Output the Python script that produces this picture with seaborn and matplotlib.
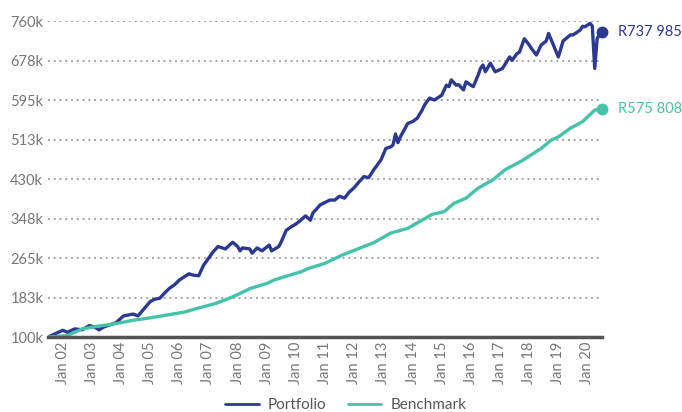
import pandas as pd
import matplotlib.pyplot as plt
import matplotlib.dates as mdates
import seaborn as sns

# Portfolio readings (value in R thousands)
port_months = [
    "2001-07", "2002-01", "2002-03", "2002-06", "2002-09", "2002-12", "2003-02", "2003-04",
    "2003-06", "2003-11", "2004-02", "2004-06", "2004-08", "2004-10", "2005-01", "2005-03",
    "2005-05", "2005-07", "2005-09", "2005-11", "2006-01", "2006-05", "2006-07", "2006-09",
    "2006-11", "2007-03", "2007-05", "2007-08", "2007-11", "2008-01", "2008-02", "2008-03",
    "2008-06", "2008-07", "2008-09", "2008-11", "2009-02", "2009-03", "2009-06", "2009-07",
    "2009-09", "2009-11", "2010-01", "2010-02", "2010-05", "2010-07", "2010-08", "2010-11",
    "2011-03", "2011-05", "2011-07", "2011-09", "2011-11", "2012-01", "2012-03", "2012-05",
    "2012-07", "2012-09", "2012-12", "2013-02", "2013-04", "2013-05", "2013-06", "2013-07",
    "2013-08", "2013-11", "2014-01", "2014-03", "2014-05", "2014-06", "2014-08", "2014-10",
    "2015-01", "2015-03", "2015-04", "2015-05", "2015-07", "2015-08", "2015-10", "2015-11",
    "2016-01", "2016-02", "2016-04", "2016-05", "2016-06", "2016-07", "2016-09", "2016-11",
    "2017-02", "2017-05", "2017-06", "2017-08", "2017-09", "2017-11", "2018-01", "2018-02",
    "2018-04", "2018-06", "2018-08", "2018-09", "2019-01", "2019-03", "2019-06", "2019-07",
    "2019-08", "2019-10", "2019-11", "2019-12", "2020-02", "2020-03", "2020-04", "2020-05",
    "2020-06", "2020-07",
]
port_values = [
    100, 114, 110, 117, 115, 124, 121, 115,
    121, 130, 144, 148, 144, 156, 174, 179,
    181, 192, 202, 209, 219, 232, 229, 228,
    250, 278, 289, 284, 298, 289, 280, 286,
    284, 275, 286, 280, 292, 280, 289, 299,
    323, 330, 336, 340, 353, 344, 359, 376,
    386, 386, 394, 390, 403, 412, 424, 435,
    433, 449, 470, 494, 497, 501, 524, 506,
    518, 546, 550, 557, 574, 585, 599, 595,
    605, 626, 623, 637, 626, 627, 616, 633,
    626, 623, 647, 661, 668, 654, 672, 654,
    661, 685, 678, 692, 695, 723, 710, 702,
    689, 710, 718, 734, 685, 718, 731, 731,
    734, 741, 749, 748, 755, 750, 661, 723,
    733, 737.985,
]

# Benchmark readings (value in R thousands)
bench_months = [
    "2001-07", "2002-03", "2002-09", "2003-04", "2003-11", "2004-06", "2005-01", "2005-08",
    "2006-03", "2006-10", "2007-04", "2007-11", "2008-02", "2008-06", "2009-01", "2009-04",
    "2009-09", "2010-03", "2010-06", "2011-01", "2011-08", "2012-03", "2012-09", "2013-04",
    "2013-11", "2014-05", "2014-09", "2015-02", "2015-06", "2015-11", "2016-04", "2016-10",
    "2017-03", "2017-10", "2018-06", "2018-10", "2019-01", "2019-06", "2019-11", "2020-04",
    "2020-07",
]
bench_values = [
    100, 103, 117, 123, 128, 135, 140, 146,
    152, 162, 170, 184, 191, 201, 212, 219,
    227, 236, 243, 254, 271, 285, 297, 317,
    327, 344, 356, 362, 379, 390, 411, 428,
    449, 468, 494, 511, 518, 536, 550, 574,
    575.808,
]

series_names = ["Portfolio", "Benchmark"]
end_labels = ["R737 985", "R575 808"]
colors = {"Portfolio": "#2b3990", "Benchmark": "#45c3aa"}

ytick_vals = [100, 182.5, 265, 347.5, 430, 512.5, 595, 677.5, 760]
ytick_labels = ["100k", "183k", "265k", "348k", "430k", "513k", "595k", "678k", "760k"]

sns.set_theme(style="white")
plt.rcParams['font.family'] = ['Lato', 'DejaVu Sans']

df = pd.concat([
    pd.DataFrame({"Date": pd.to_datetime(port_months), "Value": port_values, "Series": "Portfolio"}),
    pd.DataFrame({"Date": pd.to_datetime(bench_months), "Value": bench_values, "Series": "Benchmark"}),
], ignore_index=True)

fig = plt.figure(figsize=(6.82, 4.12), dpi=100)
ax = fig.add_axes([0.0704, 0.182, 0.8123, 0.767])

sns.lineplot(data=df, x="Date", y="Value", hue="Series", hue_order=series_names,
             palette=colors, linewidth=2.4, ax=ax)

# end dots + value labels
for name, lab in zip(series_names, end_labels):
    last = df[df["Series"] == name].iloc[-1]
    ax.plot(last["Date"], last["Value"], "o", ms=7.5, color=colors[name], clip_on=False, zorder=5)
    ax.annotate(lab, (last["Date"], last["Value"]), xytext=(11.5, 0), textcoords="offset points",
                va="center", ha="left", fontsize=10.5, color=colors[name], annotation_clip=False)

ax.set_xlim(df["Date"].min(), df["Date"].max())
ax.set_ylim(100, 760)
ax.set_yticks(ytick_vals)
ax.set_yticklabels(ytick_labels)
ax.xaxis.set_major_locator(mdates.YearLocator())
ax.xaxis.set_major_formatter(mdates.DateFormatter("%b %y"))
ax.tick_params(axis="x", rotation=90, length=0, pad=3.5, labelsize=10.5, labelcolor="#777777")
ax.tick_params(axis="y", length=0, pad=3.5, labelsize=10.5, labelcolor="#777777")
ax.set_xlabel("")
ax.set_ylabel("")

ax.yaxis.grid(True, color="#9a9a9a", linestyle=(0, (1, 2.2)), linewidth=1.3)
ax.xaxis.grid(False)
ax.set_axisbelow(True)
for s in ["top", "left", "right"]:
    ax.spines[s].set_visible(False)
ax.spines["bottom"].set_color("#555555")
ax.spines["bottom"].set_linewidth(2.5)

handles, labels = ax.get_legend_handles_labels()
ax.get_legend().remove()
leg = fig.legend(handles, labels, loc="center", bbox_to_anchor=(0.507, 0.017), ncol=2,
                 frameon=False, fontsize=11, handlelength=2.2, columnspacing=1.4,
                 handletextpad=0.6, labelcolor="#555555")
for line in leg.get_lines():
    line.set_linewidth(2)

fig.savefig("out.png", dpi=100)
